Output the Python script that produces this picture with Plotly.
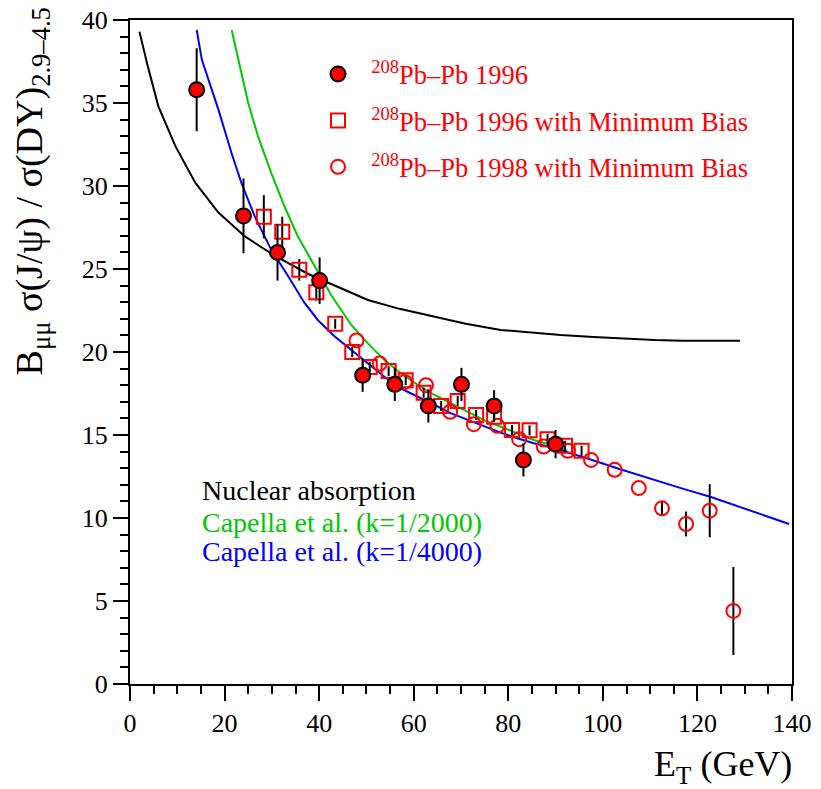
import plotly.graph_objects as go

# 208Pb-Pb 1996 (filled circles)
x96 = [14.1, 24.0, 31.2, 40.1, 49.2, 56.0, 63.1, 70.1, 77.0, 83.2, 90.0]
y96 = [35.8, 28.2, 26.0, 24.3, 18.6, 18.05, 16.75, 18.05, 16.75, 13.5, 14.45]
e96 = [2.5, 2.25, 1.7, 1.4, 1.0, 1.0, 1.0, 1.0, 0.95, 1.0, 0.85]

# 208Pb-Pb 1996 with Minimum Bias (open squares)
x96mb = [28.3, 32.2, 35.8, 39.4, 43.4, 47.0, 50.7, 54.7, 58.3, 62.1, 65.8, 69.3, 73.2, 77.0, 80.8, 84.5, 88.3, 92.0, 95.5]
y96mb = [28.15, 27.25, 24.95, 23.6, 21.7, 20.0, 19.1, 18.85, 18.3, 17.55, 16.75, 17.05, 16.2, 16.1, 15.3, 15.28, 14.75, 14.35, 14.05]
e96mb = [1.3, 0.9, 0.65, 0.5, 0.3, 0.3, 0.3, 0.3, 0.3, 0.3, 0.3, 0.3, 0.3, 0.3, 0.3, 0.3, 0.3, 0.3, 0.3]

# 208Pb-Pb 1998 with Minimum Bias (open circles)
x98mb = [47.9, 52.8, 58.1, 62.6, 67.7, 72.7, 77.7, 82.3, 87.5, 92.6, 97.5, 102.5, 107.6, 112.5, 117.6, 122.6, 127.6]
y98mb = [20.7, 19.3, 18.2, 18.0, 16.4, 15.65, 15.55, 14.75, 14.3, 14.05, 13.5, 12.9, 11.8, 10.58, 9.64, 10.44, 4.4]
e98mb = [0, 0, 0, 0, 0, 0, 0, 0, 0, 0, 0, 0, 0, 0.4, 0.75, 1.6, 2.65]

# Nuclear absorption curve
xna = [2.0, 3.6, 6.0, 9.6, 13.8, 18.7, 24.3, 30.6, 37.7, 46.1, 50.3, 57.0, 64.4, 71.0, 78.4, 85.0, 91.1, 98.0, 105.0, 111.0, 117.0, 123.0, 129.0]
yna = [39.3, 37.4, 34.8, 32.4, 30.2, 28.4, 26.96, 25.8, 24.7, 23.64, 23.13, 22.6, 22.13, 21.7, 21.33, 21.15, 21.02, 20.9, 20.8, 20.72, 20.68, 20.68, 20.68]

# Capella et al. (k=1/2000)
xk2 = [21.5, 22.9, 25.0, 27.1, 29.9, 32.7, 35.5, 39.0, 42.6, 46.8, 50.3, 53.8, 57.3, 60.9, 64.4, 67.9, 71.4, 74.9, 78.4, 81.9, 85.4, 89.0, 92.5]
yk2 = [39.4, 37.6, 35.0, 32.97, 30.76, 28.75, 26.96, 25.2, 23.4, 21.63, 20.52, 19.52, 18.72, 18.01, 17.41, 16.9, 16.4, 15.9, 15.5, 15.1, 14.7, 14.4, 14.06]

# Capella et al. (k=1/4000)
xk4 = [14.1, 15.2, 18.7, 21.5, 23.6, 26.4, 29.9, 33.5, 36.8, 39.8, 43.3, 46.8, 50.3, 53.8, 57.3, 60.9, 64.4, 67.9, 71.4, 74.9, 78.4, 81.9, 85.4, 89.0, 96.6, 103.5, 110.7, 116.5, 122.7, 131.0, 139.4]
yk4 = [39.4, 37.6, 34.6, 31.96, 30.15, 28.15, 26.14, 24.55, 23.0, 21.9, 20.93, 20.12, 19.32, 18.51, 17.8, 17.31, 16.81, 16.3, 15.9, 15.5, 15.14, 14.8, 14.5, 14.26, 13.6, 12.95, 12.29, 11.8, 11.28, 10.45, 9.64]

xticks = [0, 20, 40, 60, 80, 100, 120, 140]
yticks = [0, 5, 10, 15, 20, 25, 30, 35, 40]

FONT = "Liberation Serif"
RED = "#ff0000"
GREEN = "#00c800"
BLUE = "#0000ff"

fig = go.Figure()

fig.add_trace(go.Scatter(x=xna, y=yna, mode="lines", line=dict(color="black", width=2),
                         showlegend=False, hoverinfo="skip"))
fig.add_trace(go.Scatter(x=xk2, y=yk2, mode="lines", line=dict(color=GREEN, width=2),
                         showlegend=False, hoverinfo="skip"))
fig.add_trace(go.Scatter(x=xk4, y=yk4, mode="lines", line=dict(color=BLUE, width=2),
                         showlegend=False, hoverinfo="skip"))

err_style = dict(type="data", visible=True, color="black", thickness=2, width=0)

fig.add_trace(go.Scatter(
    x=x96mb, y=y96mb, mode="markers",
    error_y=dict(array=e96mb, **err_style),
    marker=dict(symbol="square-open", size=14, color=RED, line=dict(width=2, color=RED)),
    name="&nbsp;&nbsp;<sup>208</sup>Pb\u2013Pb 1996 with Minimum Bias", legendgroup="b", legendrank=2))
fig.add_trace(go.Scatter(
    x=x98mb, y=y98mb, mode="markers",
    error_y=dict(array=e98mb, **err_style),
    marker=dict(symbol="circle-open", size=14, color=RED, line=dict(width=2, color=RED)),
    name="&nbsp;&nbsp;<sup>208</sup>Pb\u2013Pb 1998 with Minimum Bias", legendgroup="c", legendrank=3))
fig.add_trace(go.Scatter(
    x=x96, y=y96, mode="markers",
    error_y=dict(array=e96, **err_style),
    marker=dict(symbol="circle", size=15, color=RED, line=dict(width=2, color="black")),
    name="&nbsp;&nbsp;<sup>208</sup>Pb\u2013Pb 1996", legendgroup="a", legendrank=1))

axis_common = dict(
    showgrid=False, zeroline=False, showline=True, linecolor="black", linewidth=2,
    mirror=True, ticks="outside", tickcolor="black", tickwidth=2, ticklen=15,
    tickfont=dict(family=FONT, size=26, color="black"), automargin=False,
)

fig.update_xaxes(range=[0, 140], tickvals=xticks,
                 minor=dict(dtick=5, ticks="outside", ticklen=8, tickwidth=2, tickcolor="black"),
                 **axis_common)
fig.update_yaxes(range=[0, 40], tickvals=yticks,
                 minor=dict(dtick=1, ticks="outside", ticklen=8, tickwidth=2, tickcolor="black"),
                 **axis_common)

fig.update_layout(
    width=821, height=789,
    margin=dict(l=130, r=29, t=20, b=105, autoexpand=False),
    paper_bgcolor="white", plot_bgcolor="white",
    font=dict(family=FONT, color="black"),
    legend=dict(x=0.284, y=0.9545, xanchor="left", yanchor="top",
                font=dict(family=FONT, size=26.5, color=RED),
                bgcolor="rgba(0,0,0,0)", traceorder="grouped", tracegroupgap=9,
                itemsizing="trace"),
    annotations=[
        dict(text="B<sub>\u03bc\u03bc</sub> \u03c3(J/\u03c8) / \u03c3(DY)<sub>2.9\u20134.5</sub>",
             xref="paper", yref="paper", x=-0.148, y=1.022, xanchor="center", yanchor="top",
             textangle=-90, showarrow=False, font=dict(family=FONT, size=38, color="black")),
        dict(text="E<sub>T</sub> (GeV)", xref="paper", yref="paper", x=1.003, y=-0.088,
             xanchor="right", yanchor="top", showarrow=False,
             font=dict(family=FONT, size=36, color="black")),
        dict(text="Nuclear absorption", xref="paper", yref="paper", x=0.106, y=0.291,
             xanchor="left", yanchor="middle", showarrow=False,
             font=dict(family=FONT, size=28, color="black")),
        dict(text="Capella et al. (k=1/2000)", xref="paper", yref="paper", x=0.106, y=0.243,
             xanchor="left", yanchor="middle", showarrow=False,
             font=dict(family=FONT, size=28, color=GREEN)),
        dict(text="Capella et al. (k=1/4000)", xref="paper", yref="paper", x=0.106, y=0.199,
             xanchor="left", yanchor="middle", showarrow=False,
             font=dict(family=FONT, size=28, color=BLUE)),
    ],
)

fig.write_html("out.html", config={"displayModeBar": False},
               post_script="document.body.style.margin='0';")
